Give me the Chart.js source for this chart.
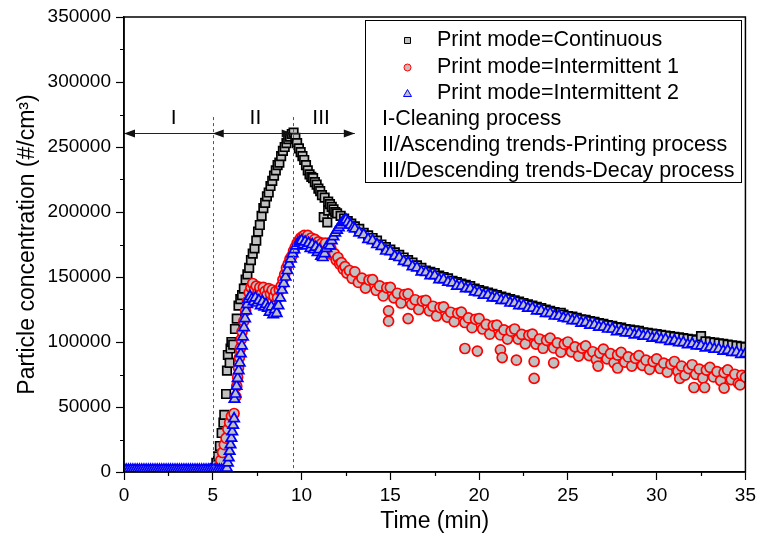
<!DOCTYPE html>
<html>
<head>
<meta charset="utf-8">
<title>Particle concentration vs time</title>
<script src="https://cdn.jsdelivr.net/npm/chart.js@4.4.1/dist/chart.umd.min.js"></script>
<style>
  html, body { margin: 0; padding: 0; background: #fff; }
  #wrap { position: relative; width: 760px; height: 547px; }
</style>
</head>
<body>
<div id="wrap"><canvas id="chart"></canvas></div>
<script>
// [time (min), concentration (#/cm3)]
const continuous = [
  [0,1500],[0.25,1400],[0.5,1600],[0.75,1500],[1,1500],[1.25,1700],[1.5,1400],[1.75,1500],[2,1600],[2.25,1500],[2.5,1400],
  [2.75,1500],[3,1600],[3.25,1500],[3.5,1500],[3.75,1400],[4,1600],[4.25,1500],[4.5,1500],[4.75,1600],[5,1500],
  [5.1,3000],[5.2,7000],[5.3,12000],[5.4,20000],[5.5,30000],[5.6,38000],[5.65,44000],[5.75,60000],[5.8,78000],[5.85,90000],
  [5.95,84000],[6.0,95000],[6.05,100000],[6.15,98000],[6.25,110000],[6.35,118000],[6.45,128000],[6.55,133000],[6.65,136000],
  [6.75,141000],[6.85,148000],[6.95,152000],[7.05,157000],[7.15,163000],[7.25,168000],[7.35,172000],[7.45,178000],[7.55,185000],
  [7.65,190000],[7.75,197000],[7.85,203000],[7.95,207000],[8.05,212000],[8.15,215000],[8.25,220000],[8.35,224000],[8.45,228000],
  [8.55,232000],[8.65,236000],[8.75,238000],[8.85,243000],[8.95,247000],[9.05,250000],[9.15,253000],[9.25,256000],[9.35,258000],
  [9.45,260000],[9.55,261000],[9.65,257000],[9.75,253000],[9.85,249000],[9.95,246000],[10.05,243000],[10.15,240000],[10.25,236000],
  [10.35,232000],[10.45,229000],[10.55,227000],[10.65,226000],[10.75,223000],[10.85,221000],[10.95,218000],[11.05,216000],
  [11.15,213000],[11.25,196000],[11.3,211000],[11.45,192000],[11.5,208000],[11.5,201000],[11.6,206000],[11.7,204000],[11.8,202000],
  [11.9,200000],[12.0,199000],[12.2,197000],[12.4,195000],[12.6,193000],[12.8,191000],
  [13,189000],[13.25,187000],[13.5,184000],[13.75,182000],[14,180000],[14.25,178000],[14.5,175000],[14.75,173000],[15,171000],
  [15.25,169000],[15.5,167000],[15.75,165000],[16,163000],[16.25,161000],[16.5,159000],[16.75,157000],[17,155000],[17.25,154000],
  [17.5,153000],[17.75,151000],[18,150000],[18.25,149000],[18.5,147000],[18.75,146000],[19,145000],[19.25,144000],[19.5,143000],
  [19.75,141000],[20,140000],[20.25,139000],[20.5,138000],[20.75,137000],[21,136000],[21.25,135000],[21.5,134000],[21.75,133000],
  [22,132000],[22.25,131000],[22.5,130000],[22.75,129000],[23,128000],[23.25,127000],[23.5,126000],[23.75,125000],[24,124000],
  [24.25,123000],[24.5,122000],[24.6,122500],[24.75,121000],[25,120000],[25.25,119500],[25.5,118500],[25.75,117500],[26,117000],
  [26.25,116000],[26.5,115500],[26.75,114500],[27,114000],[27.25,113000],[27.5,112500],[27.75,111500],[28,111000],[28.25,110000],
  [28.5,109500],[28.75,109000],[29,108500],[29.25,107500],[29.5,107000],[29.75,106500],[30,106000],[30.25,105500],[30.5,105000],
  [30.75,104500],[31,104000],[31.25,103500],[31.5,103000],[31.75,102500],[32,102000],[32.25,101500],[32.5,104500],[32.75,100500],
  [33,100000],[33.25,99500],[33.5,99000],[33.75,98500],[34,98000],[34.25,97500],[34.5,97000],[34.75,96500],[35,96000]
];

const intermittent1 = [
  [0,1500],[0.25,1500],[0.5,1400],[0.75,1600],[1,1500],[1.25,1500],[1.5,1600],[1.75,1400],[2,1500],[2.25,1500],[2.5,1600],
  [2.75,1500],[3,1400],[3.25,1500],[3.5,1600],[3.75,1500],[4,1500],[4.25,1400],[4.5,1600],[4.75,1500],[5,1500],[5.25,1500],
  [5.35,4000],[5.45,9000],[5.55,15000],[5.65,21000],[5.75,26000],[5.85,33000],[5.95,38000],[6.05,43000],[6.2,45000],
  [6.3,58000],[6.35,66000],[6.4,73000],[6.45,80000],[6.5,88000],[6.55,95000],[6.6,102000],[6.65,108000],[6.75,116000],
  [6.85,124000],[6.95,131000],[7.05,138000],[7.15,142000],[7.25,145000],[7.35,140000],[7.45,143000],[7.55,138000],[7.65,142000],
  [7.75,137000],[7.85,142000],[7.95,139000],[8.05,136000],[8.15,141000],[8.25,137000],[8.35,140000],[8.45,135000],[8.55,139000],
  [8.65,134000],[8.75,140000],[8.85,143000],[8.95,148000],[9.05,152000],[9.15,157000],[9.25,160000],[9.35,164000],[9.45,166000],
  [9.55,170000],[9.65,173000],[9.75,176000],[9.85,178000],[9.95,180000],[10.05,181000],[10.15,182000],[10.25,180000],[10.35,182000],
  [10.45,177000],[10.55,180000],[10.65,176000],[10.75,179000],[10.85,174000],[10.95,177000],[11.05,173000],[11.15,176000],
  [11.25,172000],[11.35,176000],[11.45,171000],[11.55,169000],[11.65,172000],[11.75,167000],[11.85,168000],[11.95,163000],
  [12.05,165000],[12.15,160000],[12.25,161000],[12.35,156000],[12.45,158000],[12.55,153000],[12.7,155000],[12.85,149000],
  [13.0,154000],[13.2,145800],[13.4,149100],[13.6,141400],[13.8,147700],[14.0,148000],[14.2,139800],[14.4,143100],[14.6,135400],
  [14.8,141700],[14.9,116000],[14.9,124000],[15.0,142000],[15.2,134000],[15.4,137500],[15.6,130000],[15.8,136500],[16.0,118000],
  [16.0,137000],[16.2,129000],[16.4,132500],[16.6,125000],[16.8,131500],[17.0,132000],[17.2,124000],[17.4,127500],[17.6,120000],
  [17.8,126500],[18.0,127000],[18.2,119200],[18.4,122900],[18.6,115600],[18.8,122100],[19.0,123000],[19.2,95000],[19.2,115000],
  [19.4,118500],[19.6,111000],[19.8,117500],[19.9,93000],[20.0,118000],[20.2,110000],[20.4,113500],[20.6,106000],[20.8,112500],
  [21.0,113000],[21.2,94000],[21.2,105400],[21.3,88000],[21.4,109300],[21.6,102200],[21.8,108300],[22.0,110000],[22.1,86000],
  [22.2,102200],[22.4,105900],[22.6,98600],[22.8,105100],[23.0,106000],[23.1,72000],[23.1,85000],[23.2,98400],[23.4,102300],
  [23.6,95200],[23.8,101300],[24.0,103000],[24.2,84000],[24.2,95400],[24.4,99300],[24.6,92200],[24.8,98300],[25.0,100000],
  [25.2,92400],[25.4,96300],[25.6,89200],[25.8,95300],[26.0,97000],[26.2,89500],[26.4,92500],[26.6,86500],[26.7,81500],
  [26.8,91500],[27.0,94500],[27.2,87000],[27.4,91000],[27.6,84000],[27.8,80000],[27.8,90000],[28.0,92000],[28.2,84500],
  [28.4,88500],[28.6,81500],[28.8,87500],[29.0,89500],[29.2,82000],[29.4,86000],[29.6,79000],[29.8,85000],[30.0,87000],
  [30.2,79600],[30.4,83700],[30.6,76800],[30.8,82900],[31.0,85000],[31.2,77500],[31.3,72000],[31.4,81500],[31.6,74500],
  [31.8,79500],[32.0,82500],[32.1,65000],[32.2,75100],[32.4,79200],[32.6,72300],[32.7,65000],[32.8,78400],[33.0,80500],
  [33.2,73100],[33.4,77200],[33.6,70300],[33.8,64500],[33.8,76400],[34.0,78500],[34.2,71100],[34.4,75200],[34.6,68300],
  [34.7,67000],[34.8,74400],[35.0,73000]
];

const intermittent2 = [
  [0,1500],[0.125,1500],[0.25,1500],[0.375,1500],[0.5,1500],[0.625,1500],[0.75,1500],[0.875,1500],[1,1500],[1.125,1500],
  [1.25,1500],[1.375,1500],[1.5,1500],[1.625,1500],[1.75,1500],[1.875,1500],[2,1500],[2.125,1500],[2.25,1500],[2.375,1500],
  [2.5,1500],[2.625,1500],[2.75,1500],[2.875,1500],[3,1500],[3.125,1500],[3.25,1500],[3.375,1500],[3.5,1500],[3.625,1500],
  [3.75,1500],[3.875,1500],[4,1500],[4.125,1500],[4.25,1500],[4.375,1500],[4.5,1500],[4.625,1500],[4.75,1500],[4.875,1500],
  [5,1500],[5.125,1500],[5.25,1500],[5.375,1500],[5.5,1500],[5.625,1500],[5.75,1500],
  [5.8,3000],[5.85,7000],[5.9,11000],[5.95,16000],[6.0,21000],[6.05,26000],[6.1,31000],[6.15,36000],[6.2,41000],[6.22,56000],
  [6.28,60000],[6.34,66000],[6.4,72000],[6.46,78000],[6.52,84000],[6.58,91000],[6.64,97000],[6.7,104000],[6.76,111000],
  [6.82,118000],[6.88,124000],[6.94,129000],[7.0,133000],[7.1,135000],[7.2,133000],[7.3,131000],[7.4,134000],[7.5,130000],
  [7.6,132000],[7.7,128000],[7.8,131000],[7.9,127000],[8.0,129000],[8.1,126000],[8.2,123000],[8.3,127000],[8.4,121000],
  [8.5,125000],[8.6,122000],[8.7,128000],[8.8,134000],[8.9,140000],[9.0,145000],[9.1,150000],[9.2,155000],[9.3,160000],
  [9.4,164000],[9.5,168000],[9.6,171000],[9.7,174000],[9.8,176000],[9.9,177000],[10.0,178000],[10.1,175000],[10.2,177000],
  [10.3,174000],[10.4,176000],[10.5,172000],[10.6,175000],[10.7,171000],[10.8,173000],[10.9,169000],[11.0,171000],[11.1,166000],
  [11.2,165000],[11.3,168000],[11.4,172000],[11.5,175000],[11.6,174000],[11.7,178000],[11.8,181000],[11.9,184000],[12.0,186000],
  [12.1,188000],[12.2,190000],[12.3,192000],[12.4,193000],[12.5,194000],[12.6,192000],[12.75,190000],[12.9,188000],
  [13,187000],[13.25,184000],[13.5,182500],[13.75,179000],[14,178000],[14.25,175000],[14.5,173500],[14.75,170000],[15,169500],
  [15.25,166000],[15.5,165000],[15.75,162000],[16,161000],[16.25,158000],[16.5,157000],[16.75,154000],[17,153500],[17.25,151000],
  [17.5,151000],[17.75,148000],[18,148000],[18.25,146000],[18.5,145500],[18.75,143000],[19,143000],[19.25,141000],[19.5,141000],
  [19.75,138500],[20,138000],[20.25,136000],[20.5,136000],[20.75,134000],[21,134000],[21.25,132000],[21.5,132000],[21.75,130000],
  [22,130000],[22.25,128000],[22.5,128000],[22.75,126000],[23,126000],[23.25,124000],[23.5,124000],[23.75,122000],[24,122000],
  [24.25,120000],[24.5,120000],[24.75,118500],[25,118000],[25.25,116500],[25.5,116500],[25.75,114500],[26,115000],[26.25,113000],
  [26.5,113000],[26.75,111500],[27,111500],[27.25,110000],[27.5,110000],[27.75,108000],[28,108500],[28.25,107000],[28.5,107000],
  [28.75,105500],[29,106000],[29.25,104500],[29.5,104500],[29.75,103000],[30,103500],[30.25,102000],[30.5,102000],[30.75,100500],
  [31,101000],[31.25,99500],[31.5,99500],[31.75,98000],[32,98500],[32.25,97000],[32.5,97000],[32.75,95500],[33,96000],
  [33.25,94500],[33.5,94500],[33.75,93000],[34,93500],[34.25,92000],[34.5,92000],[34.75,90500],[35,91000]
];

const seriesNames = ['Print mode=Continuous', 'Print mode=Intermittent 1', 'Print mode=Intermittent 2'];
const noteLines = ['I-Cleaning process', 'II/Ascending trends-Printing process', 'III/Descending trends-Decay process'];
const regionBounds = [0, 5, 9.5, 13];
const regionLabels = ['I', 'II', 'III'];
const regionLabelX = [2.8, 7.4, 11.1];
const dividers = [5, 9.5];
const arrowLevel = 261000;
const labelLevel = 272000;
const dividerTop = 273000;
const xMinorTicks = [2.5, 7.5, 12.5, 17.5, 22.5, 27.5, 32.5];
const yMinorTicks = [25000, 75000, 125000, 175000, 225000, 275000, 325000];

const FONT = '"Liberation Sans", Arial, Helvetica, sans-serif';
const GRAY = '#c0c0c0';
const seriesColors = ['#000000', '#ff0000', '#0000ff'];
const seriesStyles = ['rect', 'circle', 'triangle'];

function toPoints(arr) {
  return arr.map(p => ({ x: p[0], y: p[1] }));
}

// draws the frame, minor ticks, region arrows and the legend box
const decorations = {
  id: 'decorations',
  afterDatasetsDraw(chart) {
    const ctx = chart.ctx;
    const xs = chart.scales.x, ys = chart.scales.y;
    const a = chart.chartArea;
    ctx.save();

    // dashed dividers
    ctx.strokeStyle = '#555';
    ctx.lineWidth = 1;
    ctx.setLineDash([3, 3]);
    dividers.forEach(d => {
      const px = Math.round(xs.getPixelForValue(d)) + 0.5;
      ctx.beginPath();
      ctx.moveTo(px, ys.getPixelForValue(dividerTop));
      ctx.lineTo(px, a.bottom);
      ctx.stroke();
    });
    ctx.setLineDash([]);

    // region arrows
    const ay = Math.round(ys.getPixelForValue(arrowLevel)) + 0.5;
    ctx.strokeStyle = '#222';
    ctx.fillStyle = '#111';
    ctx.beginPath();
    ctx.moveTo(xs.getPixelForValue(regionBounds[0]), ay);
    ctx.lineTo(xs.getPixelForValue(regionBounds[regionBounds.length - 1]), ay);
    ctx.stroke();
    const head = (px, dir) => {
      ctx.beginPath();
      ctx.moveTo(px, ay);
      ctx.lineTo(px - dir * 11, ay - 4);
      ctx.lineTo(px - dir * 11, ay + 4);
      ctx.closePath();
      ctx.fill();
    };
    head(xs.getPixelForValue(regionBounds[0]), -1);
    head(xs.getPixelForValue(regionBounds[1]), -1);
    head(xs.getPixelForValue(regionBounds[2]), 1);
    head(xs.getPixelForValue(regionBounds[3]), 1);

    ctx.font = '21px ' + FONT;
    ctx.fillStyle = '#000';
    ctx.textAlign = 'center';
    ctx.textBaseline = 'middle';
    regionLabels.forEach((t, i) => {
      ctx.fillText(t, xs.getPixelForValue(regionLabelX[i]), ys.getPixelForValue(labelLevel));
    });

    // frame
    ctx.strokeStyle = '#000';
    ctx.lineWidth = 1.5;
    ctx.strokeRect(a.left, a.top, a.right - a.left, a.bottom - a.top);

    // minor ticks
    ctx.lineWidth = 1.2;
    ctx.beginPath();
    xMinorTicks.forEach(v => {
      const px = Math.round(xs.getPixelForValue(v)) + 0.5;
      ctx.moveTo(px, a.bottom);
      ctx.lineTo(px, a.bottom + 4);
    });
    yMinorTicks.forEach(v => {
      const py = Math.round(ys.getPixelForValue(v)) + 0.5;
      ctx.moveTo(a.left, py);
      ctx.lineTo(a.left - 4, py);
    });
    ctx.stroke();

    // legend box
    const lx = 365, ly = 20, lw = 376, lh = 162;
    ctx.fillStyle = '#fff';
    ctx.fillRect(lx, ly, lw, lh);
    ctx.lineWidth = 1;
    ctx.strokeStyle = '#000';
    ctx.strokeRect(lx + 0.5, ly + 0.5, lw, lh);
    const rows = [40, 67, 93, 119, 145, 171];
    ctx.font = '21.5px ' + FONT;
    ctx.textAlign = 'left';
    ctx.textBaseline = 'middle';
    seriesNames.forEach((name, i) => {
      const y = rows[i];
      ctx.fillStyle = GRAY;
      ctx.strokeStyle = seriesColors[i];
      ctx.lineWidth = 1;
      ctx.beginPath();
      if (i === 0) ctx.rect(404.5, y - 2.5, 6, 6);
      else if (i === 1) ctx.arc(407.5, y + 0.5, 3.5, 0, Math.PI * 2);
      else { ctx.moveTo(407.5, y - 3.5); ctx.lineTo(411.5, y + 3.5); ctx.lineTo(403.5, y + 3.5); ctx.closePath(); }
      ctx.fill();
      ctx.stroke();
      ctx.fillStyle = '#000';
      ctx.fillText(name, 437, y);
    });
    noteLines.forEach((t, i) => {
      ctx.fillStyle = '#000';
      ctx.fillText(t, 382, rows[3 + i]);
    });
    ctx.restore();
  }
};

const makeSet = (label, arr, i, radius) => ({
  label,
  data: toPoints(arr),
  pointStyle: seriesStyles[i],
  pointRadius: radius,
  pointHoverRadius: radius,
  pointBackgroundColor: GRAY,
  pointBorderColor: seriesColors[i],
  pointBorderWidth: 1.7,
  showLine: false,
  clip: 0,
  order: 3 - i
});

new Chart(document.getElementById('chart'), {
  type: 'scatter',
  data: {
    datasets: [
      makeSet(seriesNames[0], continuous, 0, 6),
      makeSet(seriesNames[1], intermittent1, 1, 5),
      makeSet(seriesNames[2], intermittent2, 2, 6)
    ]
  },
  options: {
    responsive: true,
    maintainAspectRatio: false,
    animation: false,
    events: [],
    layout: { padding: { top: 17, right: 11, left: 0, bottom: 0 } },
    plugins: { legend: { display: false }, tooltip: { enabled: false } },
    scales: {
      x: {
        type: 'linear',
        min: 0,
        max: 35,
        afterFit(scale) { scale.height = 75; },
        ticks: { stepSize: 5, color: '#000', font: { family: FONT, size: 19 }, padding: 4, maxRotation: 0 },
        grid: { drawOnChartArea: false, drawTicks: true, tickLength: 8, tickColor: '#000', tickWidth: 1.2 },
        border: { display: true, color: '#000', width: 1.5 },
        title: { display: true, text: 'Time (min)', color: '#000', font: { family: FONT, size: 23 }, padding: { top: 0, bottom: 12 } }
      },
      y: {
        type: 'linear',
        min: 0,
        max: 350000,
        afterFit(scale) { scale.width = 124; },
        ticks: { stepSize: 50000, color: '#000', font: { family: FONT, size: 19 }, padding: 5, callback: v => String(v) },
        grid: { drawOnChartArea: false, drawTicks: true, tickLength: 8, tickColor: '#000', tickWidth: 1.2 },
        border: { display: true, color: '#000', width: 1.5 },
        title: { display: true, text: 'Particle concentration (#/cm³)', color: '#000', font: { family: FONT, size: 23 }, padding: { top: 14, bottom: 0 } }
      }
    }
  },
  plugins: [decorations]
});
</script>
</body>
</html>
